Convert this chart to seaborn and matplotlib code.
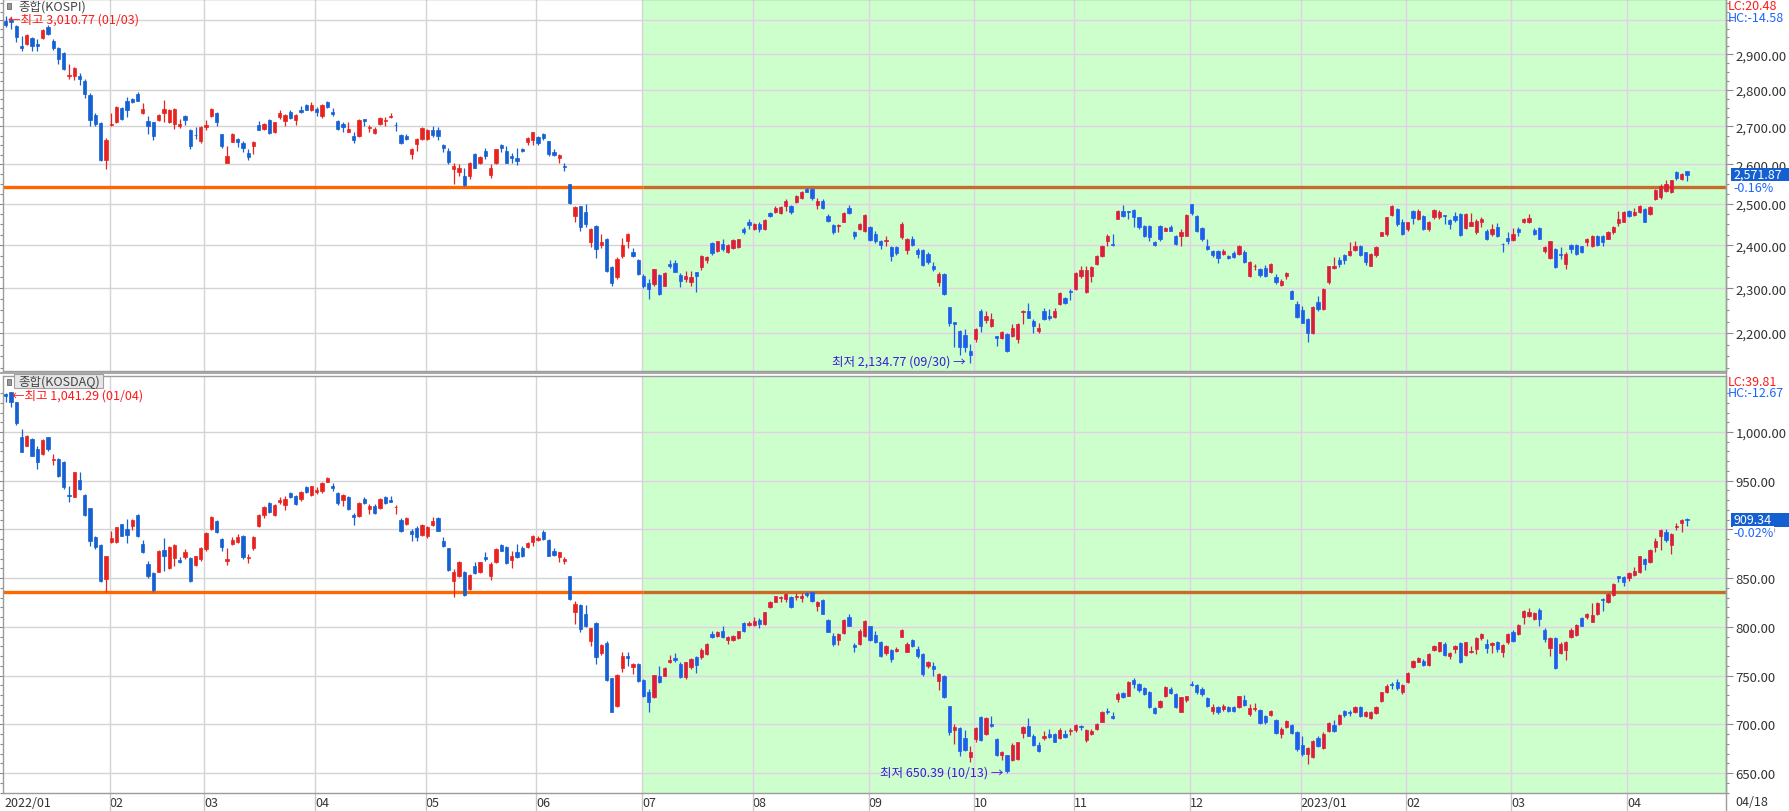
import numpy as np
import matplotlib
matplotlib.use("Agg")
import matplotlib.pyplot as plt
import seaborn as sns
from matplotlib.ticker import FixedLocator, FuncFormatter, NullFormatter
from matplotlib.patches import Rectangle
from matplotlib.lines import Line2D

sns.set_theme(style="white")
plt.rcParams['font.family'] = ['Noto Sans CJK KR', 'DejaVu Sans']
plt.rcParams['axes.unicode_minus'] = False

# ---------------- data (daily candles, 2022/01/03 .. 2023/04/18) ----------------
kospi_open = [
 2998, 3001, 2983, 2925, 2930, 2947, 2930, 2947, 2980, 2937,
 2917, 2903, 2839, 2837, 2839, 2825, 2786, 2731, 2709, 2612,
 2704, 2711, 2749, 2768, 2774, 2787, 2736, 2715, 2711, 2717,
 2735, 2711, 2707, 2702, 2729, 2690, 2678, 2662, 2698, 2729,
 2735, 2679, 2605, 2659, 2666, 2656, 2629, 2649, 2704, 2692,
 2717, 2685, 2724, 2714, 2740, 2718, 2745, 2758, 2743, 2747,
 2729, 2767, 2740, 2715, 2706, 2685, 2675, 2675, 2719, 2695,
 2682, 2706, 2715, 2724, 2705, 2677, 2675, 2627, 2653, 2666,
 2666, 2690, 2690, 2651, 2636, 2588, 2580, 2571, 2570, 2626,
 2603, 2636, 2574, 2604, 2650, 2636, 2623, 2616, 2640, 2659,
 2664, 2673, 2679, 2660, 2631, 2616, 2596, 2549, 2471, 2494,
 2480, 2407, 2447, 2401, 2416, 2348, 2326, 2375, 2409, 2385,
 2366, 2329, 2311, 2310, 2330, 2306, 2355, 2359, 2330, 2321,
 2313, 2336, 2348, 2366, 2405, 2387, 2403, 2384, 2394, 2395,
 2439, 2455, 2439, 2452, 2439, 2477, 2480, 2478, 2494, 2494,
 2504, 2515, 2538, 2538, 2498, 2508, 2471, 2448, 2446, 2457,
 2490, 2431, 2439, 2433, 2443, 2427, 2411, 2409, 2395, 2395,
 2419, 2389, 2416, 2388, 2388, 2379, 2352, 2313, 2333, 2257,
 2225, 2205, 2196, 2161, 2187, 2249, 2228, 2216, 2193, 2189,
 2198, 2194, 2187, 2246, 2249, 2227, 2205, 2249, 2238, 2236,
 2264, 2278, 2294, 2299, 2327, 2292, 2329, 2355, 2375, 2409,
 2403, 2463, 2483, 2482, 2486, 2467, 2447, 2447, 2407, 2447,
 2435, 2443, 2423, 2421, 2423, 2500, 2471, 2441, 2397, 2387,
 2387, 2379, 2375, 2381, 2379, 2383, 2329, 2351, 2344, 2346,
 2336, 2325, 2308, 2327, 2294, 2265, 2251, 2231, 2199, 2268,
 2252, 2313, 2346, 2365, 2377, 2377, 2389, 2399, 2383, 2352,
 2377, 2423, 2427, 2474, 2487, 2455, 2439, 2484, 2463, 2471,
 2439, 2467, 2467, 2472, 2461, 2471, 2476, 2441, 2447, 2431,
 2455, 2435, 2427, 2443, 2404, 2418, 2413, 2439, 2455, 2455,
 2437, 2441, 2387, 2369, 2391, 2379, 2356, 2401, 2401, 2397,
 2407, 2397, 2423, 2423, 2416, 2431, 2453, 2457, 2484, 2473,
 2480, 2488, 2475, 2513, 2517, 2533, 2531, 2580, 2563, 2582]
kospi_high = [
 3011, 3008, 2985, 2954, 2960, 2950, 2944, 2974, 2985, 2944,
 2920, 2906, 2872, 2865, 2846, 2830, 2790, 2735, 2711, 2670,
 2736, 2755, 2752, 2780, 2776, 2793, 2763, 2727, 2713, 2732,
 2772, 2748, 2749, 2720, 2731, 2692, 2699, 2701, 2717, 2750,
 2738, 2680, 2649, 2682, 2668, 2662, 2640, 2660, 2715, 2710,
 2720, 2713, 2743, 2733, 2743, 2733, 2754, 2760, 2767, 2752,
 2760, 2770, 2749, 2717, 2712, 2711, 2684, 2720, 2720, 2705,
 2699, 2724, 2725, 2736, 2711, 2679, 2680, 2642, 2668, 2697,
 2692, 2702, 2697, 2653, 2643, 2605, 2600, 2590, 2606, 2630,
 2622, 2643, 2600, 2641, 2653, 2649, 2630, 2643, 2644, 2673,
 2686, 2675, 2682, 2662, 2640, 2627, 2604, 2551, 2494, 2496,
 2500, 2442, 2449, 2427, 2418, 2350, 2373, 2418, 2429, 2393,
 2368, 2332, 2321, 2345, 2332, 2337, 2366, 2364, 2334, 2340,
 2340, 2338, 2377, 2374, 2408, 2411, 2415, 2402, 2414, 2416,
 2443, 2463, 2453, 2455, 2463, 2480, 2496, 2494, 2512, 2497,
 2523, 2533, 2539, 2540, 2515, 2512, 2475, 2452, 2452, 2480,
 2497, 2433, 2453, 2475, 2446, 2433, 2413, 2421, 2397, 2397,
 2455, 2418, 2421, 2393, 2390, 2385, 2360, 2336, 2335, 2258,
 2225, 2207, 2209, 2177, 2212, 2253, 2249, 2245, 2193, 2205,
 2200, 2219, 2222, 2251, 2266, 2231, 2223, 2256, 2253, 2256,
 2292, 2279, 2298, 2337, 2350, 2350, 2352, 2377, 2401, 2428,
 2426, 2486, 2498, 2483, 2488, 2469, 2449, 2449, 2409, 2449,
 2443, 2449, 2425, 2439, 2475, 2501, 2473, 2443, 2415, 2389,
 2389, 2391, 2377, 2387, 2401, 2389, 2362, 2356, 2346, 2354,
 2358, 2333, 2320, 2336, 2296, 2272, 2260, 2233, 2260, 2283,
 2301, 2352, 2371, 2371, 2379, 2407, 2409, 2401, 2385, 2381,
 2399, 2432, 2467, 2498, 2490, 2463, 2457, 2486, 2488, 2473,
 2459, 2488, 2486, 2473, 2463, 2480, 2478, 2478, 2478, 2463,
 2467, 2439, 2451, 2453, 2405, 2431, 2441, 2443, 2465, 2475,
 2441, 2443, 2399, 2411, 2393, 2395, 2383, 2404, 2404, 2399,
 2418, 2424, 2424, 2424, 2435, 2446, 2482, 2484, 2486, 2489,
 2497, 2490, 2496, 2538, 2550, 2559, 2560, 2582, 2578, 2584]
kospi_low = [
 2979, 2974, 2935, 2910, 2928, 2908, 2908, 2945, 2955, 2913,
 2872, 2855, 2830, 2828, 2813, 2777, 2702, 2700, 2608, 2588,
 2702, 2708, 2718, 2724, 2764, 2768, 2733, 2680, 2664, 2714,
 2711, 2708, 2693, 2695, 2704, 2640, 2666, 2656, 2690, 2724,
 2700, 2643, 2603, 2658, 2646, 2631, 2612, 2627, 2690, 2690,
 2680, 2683, 2720, 2702, 2720, 2705, 2735, 2744, 2741, 2729,
 2722, 2749, 2729, 2690, 2684, 2684, 2656, 2671, 2702, 2684,
 2680, 2704, 2701, 2722, 2688, 2652, 2663, 2614, 2636, 2664,
 2663, 2673, 2664, 2633, 2602, 2550, 2571, 2544, 2563, 2590,
 2601, 2614, 2566, 2602, 2633, 2603, 2605, 2599, 2631, 2651,
 2651, 2651, 2664, 2621, 2621, 2604, 2582, 2500, 2457, 2435,
 2444, 2395, 2370, 2393, 2338, 2306, 2321, 2369, 2393, 2371,
 2330, 2300, 2275, 2306, 2285, 2304, 2347, 2336, 2302, 2313,
 2306, 2292, 2342, 2359, 2378, 2385, 2387, 2382, 2392, 2394,
 2427, 2439, 2437, 2431, 2437, 2467, 2478, 2476, 2483, 2476,
 2502, 2513, 2529, 2511, 2487, 2488, 2455, 2428, 2431, 2455,
 2476, 2415, 2437, 2431, 2410, 2405, 2391, 2398, 2363, 2377,
 2415, 2379, 2399, 2369, 2352, 2356, 2340, 2306, 2284, 2215,
 2169, 2153, 2159, 2135, 2180, 2203, 2223, 2214, 2172, 2186,
 2160, 2191, 2178, 2219, 2233, 2200, 2201, 2229, 2229, 2233,
 2262, 2264, 2273, 2296, 2324, 2290, 2313, 2353, 2373, 2399,
 2399, 2462, 2468, 2462, 2443, 2440, 2419, 2411, 2399, 2411,
 2433, 2433, 2401, 2399, 2421, 2474, 2431, 2411, 2389, 2373,
 2357, 2377, 2367, 2369, 2377, 2358, 2325, 2342, 2325, 2325,
 2334, 2310, 2305, 2321, 2275, 2234, 2222, 2180, 2197, 2249,
 2250, 2310, 2344, 2349, 2356, 2374, 2387, 2374, 2354, 2350,
 2372, 2421, 2423, 2471, 2447, 2425, 2435, 2452, 2461, 2437,
 2435, 2463, 2463, 2451, 2439, 2457, 2423, 2439, 2445, 2427,
 2443, 2413, 2423, 2419, 2383, 2404, 2411, 2423, 2453, 2453,
 2425, 2415, 2381, 2367, 2347, 2367, 2344, 2381, 2377, 2381,
 2399, 2395, 2399, 2397, 2415, 2427, 2447, 2455, 2467, 2471,
 2478, 2455, 2473, 2511, 2513, 2531, 2528, 2559, 2559, 2558]
kospi_close = [
 2986, 2993, 2949, 2917, 2957, 2923, 2925, 2971, 2959, 2918,
 2887, 2858, 2841, 2862, 2830, 2788, 2718, 2707, 2612, 2664,
 2706, 2752, 2720, 2744, 2766, 2770, 2747, 2702, 2675, 2730,
 2746, 2745, 2746, 2706, 2718, 2647, 2676, 2698, 2704, 2747,
 2713, 2649, 2623, 2679, 2659, 2644, 2618, 2658, 2691, 2707,
 2682, 2711, 2737, 2731, 2723, 2731, 2738, 2745, 2758, 2738,
 2758, 2753, 2733, 2693, 2697, 2693, 2663, 2717, 2715, 2697,
 2693, 2722, 2718, 2729, 2703, 2656, 2666, 2640, 2666, 2695,
 2690, 2677, 2674, 2644, 2607, 2597, 2592, 2548, 2604, 2592,
 2620, 2623, 2592, 2639, 2644, 2605, 2616, 2610, 2635, 2670,
 2684, 2656, 2668, 2626, 2625, 2625, 2594, 2502, 2492, 2444,
 2451, 2440, 2391, 2407, 2340, 2311, 2367, 2400, 2427, 2375,
 2332, 2305, 2298, 2343, 2287, 2335, 2350, 2338, 2317, 2329,
 2326, 2329, 2375, 2372, 2382, 2409, 2391, 2400, 2412, 2414,
 2431, 2448, 2451, 2439, 2461, 2471, 2491, 2492, 2508, 2480,
 2521, 2529, 2531, 2514, 2508, 2490, 2459, 2431, 2448, 2477,
 2478, 2421, 2451, 2473, 2412, 2409, 2400, 2413, 2375, 2381,
 2451, 2415, 2401, 2379, 2354, 2360, 2344, 2333, 2287, 2222,
 2220, 2169, 2169, 2152, 2209, 2215, 2237, 2231, 2190, 2203,
 2162, 2212, 2219, 2249, 2234, 2216, 2212, 2231, 2233, 2249,
 2290, 2266, 2292, 2335, 2341, 2342, 2348, 2374, 2399, 2422,
 2400, 2484, 2471, 2480, 2467, 2443, 2421, 2419, 2401, 2416,
 2441, 2435, 2404, 2432, 2473, 2478, 2433, 2416, 2391, 2377,
 2369, 2387, 2369, 2371, 2399, 2360, 2360, 2352, 2331, 2329,
 2356, 2313, 2317, 2334, 2276, 2236, 2223, 2201, 2257, 2253,
 2299, 2350, 2352, 2356, 2364, 2387, 2399, 2377, 2360, 2379,
 2395, 2431, 2467, 2496, 2451, 2428, 2455, 2465, 2482, 2439,
 2455, 2486, 2480, 2470, 2451, 2461, 2425, 2476, 2455, 2459,
 2463, 2416, 2439, 2421, 2402, 2410, 2427, 2431, 2463, 2465,
 2427, 2416, 2395, 2409, 2349, 2378, 2379, 2391, 2379, 2385,
 2415, 2423, 2401, 2407, 2431, 2443, 2463, 2480, 2471, 2480,
 2496, 2457, 2492, 2534, 2546, 2550, 2559, 2565, 2576, 2572]

kosdaq_open = [
 1039, 1041, 1030.5, 994.5, 986, 992.9, 982.6, 977.5, 994.5, 971.6,
 972.3, 968.9, 935.4, 933.7, 950.8, 935.4, 921.7, 891.9, 884.1, 849.2,
 886.8, 886.8, 905.6, 900.5, 903.9, 914.8, 885.1, 864.6, 855.3, 856.7,
 878.9, 860.1, 870.4, 868.7, 872.1, 870.4, 863.5, 869.7, 880, 900.5,
 909, 890.2, 868, 885.1, 887.5, 893.6, 870.4, 880.6, 903.2, 915.2,
 926.8, 914.8, 927.8, 925.1, 937.1, 934.7, 931.3, 943.2, 935.4, 938.8,
 939.5, 949.1, 945, 937.4, 930.6, 933, 915.2, 914.2, 931.3, 921,
 924.4, 921.7, 933, 930.2, 922.7, 910, 905.6, 898, 901.5, 894.3,
 893.6, 904.6, 911.8, 888.5, 880.6, 847.4, 852, 856, 838.9, 862.9,
 856.7, 872.1, 852.6, 866.3, 884.1, 881.7, 868.7, 876.5, 881, 881.7,
 887.5, 889.2, 897.7, 889.2, 878.2, 871.4, 868, 851.9, 814.9, 822.5,
 813.2, 785.9, 804, 773.2, 783.5, 747.2, 718.5, 757.5, 770.5, 758.5,
 761.9, 745, 733.5, 727.7, 750, 750, 763.6, 767.7, 761.9, 748.2,
 758.5, 768.8, 768.8, 772.1, 792.7, 790.3, 796.1, 786.9, 786.9, 788.3,
 804, 801.9, 801.9, 807.4, 803, 820.1, 825.9, 829.3, 828.6, 830.3,
 830.3, 829.3, 834.5, 835.5, 821.8, 827.9, 807.4, 790.3, 786.9, 793.7,
 809.8, 781.4, 782.4, 791, 800.6, 792, 784.8, 773.2, 776.6, 775.6,
 789.9, 774.6, 786.9, 777.3, 772.1, 760.2, 760.2, 744.8, 750, 718.5,
 693.8, 696, 685.8, 666.1, 685.1, 707.2, 690.1, 700.3, 685.1, 668.5,
 668, 663.7, 664.4, 691.1, 698, 688.4, 678.8, 685.6, 690.1, 690.1,
 685.6, 690.1, 693.5, 694.5, 698, 684.3, 690.1, 695.2, 702.8, 714,
 708.9, 726, 732.2, 729.4, 745.8, 741.4, 736.9, 733.5, 716.4, 717.5,
 728.7, 736.3, 731.1, 713, 725.3, 741.4, 740.4, 736.3, 726.7, 714,
 717.5, 715.7, 717.5, 717.5, 717.5, 725.3, 710.6, 715.7, 715, 708.2,
 709.6, 704.8, 690.1, 696.9, 699.3, 691.8, 678.8, 669.6, 666.1, 685.6,
 675.4, 693.5, 699.3, 700.3, 714, 712.3, 712.3, 717.5, 708.9, 706.2,
 711.6, 724.3, 733.5, 741.4, 743.1, 733.5, 743.1, 758.5, 764.3, 765.3,
 760.9, 776.6, 775.6, 782.4, 769.8, 777.3, 783.5, 771.1, 774.6, 777.3,
 788.3, 782.4, 781.4, 784.8, 774.6, 784.2, 794.4, 792.7, 809.8, 810.8,
 808.1, 817.7, 797.2, 778, 788.3, 773.2, 776.6, 789.3, 791.7, 808.8,
 809.8, 805.4, 813.2, 828.6, 825.2, 832.7, 851.9, 850.9, 849.9, 853.3,
 856, 869.7, 866.3, 881.7, 893, 897.7, 884.1, 902.2, 906.6, 910.7]
kosdaq_high = [
 1040, 1041.3, 1031, 1003, 997, 994, 986, 993, 995.2, 977.5,
 973, 970, 944.9, 959, 959.3, 936, 922, 893, 885, 873,
 898.8, 903, 906, 910.7, 910.7, 915.5, 889.5, 868, 856, 879,
 890.9, 883, 885, 871.4, 880, 871.4, 873, 881.7, 897.7, 913.5,
 910, 891, 880.6, 892, 895.3, 894, 874.8, 893.6, 915.8, 924.3,
 927.8, 926.1, 933, 934, 938.1, 935.4, 939.5, 944.9, 944.9, 943.2,
 948.4, 953.5, 947.7, 938.1, 936.4, 934.7, 916.9, 927.8, 933, 926.1,
 926.1, 932, 934.7, 934.7, 925.1, 911.8, 912.5, 900.5, 903.9, 905.6,
 903.9, 913.1, 912.5, 891.9, 881, 859.4, 867.4, 857.7, 854, 866.3,
 867, 877.2, 866.3, 880.6, 885.1, 882.7, 878.2, 885.1, 882.7, 887.5,
 894.3, 893.6, 899.4, 890.2, 881, 877.2, 871.4, 852, 826.9, 823,
 822.5, 799.2, 805.4, 782.4, 785.9, 748, 751.3, 773.9, 774.6, 762.9,
 763, 747, 736.3, 751, 760.2, 758.5, 771.1, 773.2, 763.6, 764.3,
 767.7, 770.5, 778, 783.5, 796.2, 796.1, 800.6, 791, 791.7, 796.1,
 805.4, 806.4, 809.8, 808.8, 815.4, 826.9, 832, 831.3, 834.8, 832,
 834.8, 834.8, 835.5, 835.8, 826.9, 828.6, 807.8, 793.7, 793.7, 808.1,
 813.2, 783.5, 797.8, 807.4, 801.2, 796.1, 785.9, 781.4, 777.3, 779,
 797.8, 784.2, 787.6, 780.1, 773, 765.3, 763.6, 752.7, 751, 719,
 700.3, 697, 694.5, 678.1, 697, 708.2, 707, 708.2, 686, 673,
 669, 680.9, 682.2, 698, 706.2, 690.1, 682.2, 693.5, 695.2, 691.1,
 695.9, 694.5, 695.9, 700.3, 699.3, 695.2, 695.2, 701.4, 714, 716.4,
 713, 732.8, 733.5, 744.8, 747.2, 742.5, 738, 734, 717.5, 725.3,
 739, 738, 732.2, 728.4, 729.4, 744.8, 741.4, 738, 727.7, 720.9,
 719.2, 720.9, 718.5, 719.2, 729.4, 730.1, 720.9, 721.9, 716, 709.6,
 715, 705.5, 696.9, 704.8, 700.3, 693.5, 688.4, 676.4, 684.3, 688.4,
 691.8, 702.1, 704.8, 710.6, 715, 715, 718.5, 719.2, 714, 714,
 718.5, 733.5, 741.4, 743.1, 746.5, 741.4, 753.4, 766.4, 768.8, 767,
 773.2, 781.4, 784.8, 784.2, 774.6, 781.4, 784.8, 784.8, 780.7, 789.3,
 793.7, 787.6, 784.8, 785.9, 782.4, 793.7, 797.2, 803, 817.7, 819.1,
 815.6, 819.1, 798.5, 789.3, 789.3, 784.8, 785.9, 798.5, 803, 809.8,
 814.2, 824.5, 825.2, 829.3, 834.8, 845, 852.6, 852, 856.7, 861.1,
 873.1, 870.4, 880, 890.9, 900.5, 900.5, 896.4, 906.6, 910.7, 911.4]
kosdaq_low = [
 1030.5, 1025.4, 1007.2, 979, 985.3, 975, 962, 976, 980.9, 966.2,
 953.5, 941.5, 928.5, 933, 940.9, 914.2, 882.7, 880, 845.7, 836.2,
 886.1, 886, 893, 886.1, 899.8, 892, 875.8, 849.9, 836.2, 856,
 857.7, 859.4, 862.9, 865.3, 869.7, 846.4, 862.9, 868, 878.2, 899,
 896.4, 878.2, 863.5, 884.1, 886.1, 869.7, 865.6, 879.3, 902.5, 911.4,
 916.9, 913.5, 926.5, 920, 931.9, 925.4, 929.6, 937.4, 934.7, 936.4,
 937.4, 948.4, 939.8, 925.4, 924.4, 920.3, 904.6, 912.5, 926.1, 915.9,
 915.9, 921, 926.1, 927.8, 915.9, 897, 904.6, 888.5, 888.5, 893,
 891.2, 903.9, 898, 881.7, 857.7, 830.4, 850.9, 831.3, 838, 854.3,
 855.3, 867.3, 848.5, 865.6, 877.5, 864.6, 860.1, 870.4, 871.4, 880.6,
 883.4, 888.5, 889.2, 872.4, 872.4, 866.9, 864.6, 828, 803, 794.4,
 799.6, 780.1, 761.9, 771.1, 744.8, 712.6, 718, 754.1, 759.5, 751.7,
 743, 728, 712.3, 726.7, 742.5, 749.2, 762.9, 763.6, 747.2, 746.5,
 756.8, 752.7, 767, 771.1, 788.3, 790, 788.3, 782.5, 785.9, 787.6,
 794.4, 801.2, 800.6, 798.5, 802, 819.1, 825.2, 825.2, 825.2, 819.1,
 828, 825.9, 830.3, 825.2, 816.7, 812.9, 794.4, 780.7, 781.4, 792.7,
 800.6, 774.6, 781.4, 789.3, 785.9, 783.5, 768.8, 771.1, 764.3, 773.9,
 789.3, 773.9, 779, 767.7, 750, 758.2, 749.2, 735.6, 726.7, 689.1,
 679.8, 667.2, 673, 661, 682.2, 683.2, 689.1, 697, 667.2, 663.7,
 650.4, 662.7, 663.7, 685.6, 687.7, 678.1, 671.9, 684.3, 685.6, 681.5,
 684.9, 685.6, 689.1, 692.5, 694.5, 682.2, 689.1, 694.5, 702.1, 710.6,
 705.5, 723.3, 726.7, 728.7, 737, 732.8, 730.1, 716.4, 710.6, 716.4,
 727.7, 731.1, 716.4, 712.3, 722.6, 739, 731.1, 729.4, 717.5, 710.6,
 710.6, 714, 713, 712.3, 716.4, 719.2, 708.9, 714, 700.3, 700.3,
 708.9, 690.1, 685.6, 695.9, 690.1, 672.9, 667.9, 659.3, 665.1, 676.4,
 674.7, 692.5, 691.8, 699.3, 707.2, 708.2, 711.6, 707.2, 707.2, 705.5,
 710.6, 723.3, 732.2, 736.3, 735.6, 731.1, 742.5, 757.5, 763.6, 760.2,
 760.2, 775.6, 774.6, 769.8, 767.1, 773.2, 762.9, 770.5, 773.2, 772.1,
 786.9, 773.2, 773.2, 773.9, 768.8, 782.4, 784.8, 791.7, 803, 809.8,
 807.4, 800.6, 784.8, 770.5, 756.8, 772.1, 766.4, 788.3, 790.3, 800.6,
 808.1, 804.7, 812.2, 816.7, 824.2, 831.4, 845.7, 842.3, 847.4, 851.9,
 855.3, 858.7, 865.6, 876.5, 879.3, 887.5, 874.8, 899.8, 897.7, 904]
kosdaq_close = [
 1037, 1031, 1009.3, 979.8, 996.3, 975.7, 968.9, 991.8, 982.6, 972.3,
 955.2, 943.2, 934, 958.6, 941.5, 914.8, 888.5, 881.7, 847.4, 872.4,
 890.9, 902.2, 893.6, 894.6, 910, 893.6, 876.5, 852.6, 838.2, 878.2,
 873.1, 882.3, 884.1, 866.3, 877.2, 847.4, 872.4, 880.6, 896.4, 912.8,
 897.7, 881.7, 869.7, 889.5, 892.6, 871.4, 872.1, 892.6, 914.8, 923.4,
 917.6, 925.1, 930.2, 931.3, 933, 926.1, 938.1, 938.8, 944.2, 940.8,
 947.3, 952.5, 942.2, 926.8, 935.4, 921, 913.1, 926.8, 927.2, 924.4,
 916.9, 931.3, 927.2, 928.5, 923.4, 898, 911.8, 895.3, 891.9, 904.6,
 902.2, 909, 898.8, 882.7, 858.7, 856.7, 867, 832.7, 853.3, 855.3,
 866.3, 869.7, 864.6, 880, 878.2, 865.3, 873.1, 871.4, 872.4, 886.1,
 893, 891.2, 890.2, 873.1, 873.8, 876.5, 869.7, 828.6, 823.5, 797.8,
 800.6, 798.5, 768.8, 781.4, 745.8, 713, 750.6, 770.5, 767.7, 761.9,
 744.8, 729, 722.6, 750.6, 743.1, 757.8, 766.4, 766.4, 748.2, 763.6,
 767.1, 760.9, 776.6, 782.4, 789.3, 795.1, 789.3, 790, 790.3, 795.5,
 796.1, 804, 806.4, 803, 815, 825.9, 831.4, 830.3, 833.7, 820.1,
 832, 832, 832.7, 826.9, 825.9, 813.2, 795.1, 782.4, 792.7, 807.4,
 801.2, 779, 796.1, 806.4, 786.9, 784.8, 769.8, 780.1, 767.1, 777.3,
 797.2, 782.4, 780.7, 769.8, 751.7, 763.6, 756.8, 751.7, 727.7, 691.8,
 697.4, 673.1, 674.1, 672, 696, 684.3, 706.2, 698, 668.5, 671.3,
 652, 678.8, 681.5, 696.9, 688.4, 678.8, 672.9, 688.4, 686.7, 682.2,
 694.5, 686.7, 694.5, 699.3, 697, 694.5, 693.5, 700.3, 713, 713,
 706.2, 731.1, 727.7, 743.8, 741.4, 735.6, 731.1, 717.5, 711.6, 724.3,
 738, 732.2, 717.5, 727.7, 728.7, 740.4, 732.8, 731.1, 718.5, 717.5,
 712.3, 718.5, 714, 714, 728.7, 719.9, 716.4, 716.4, 701.4, 702.8,
 714, 691.1, 695.2, 703.8, 691.1, 674.7, 669.6, 675.4, 683.2, 678.1,
 690.1, 701.4, 693.5, 709.6, 709.6, 711.6, 717.5, 708.9, 713, 713,
 717.5, 732.8, 739, 740.4, 736.9, 740.4, 752.7, 765.3, 767.7, 760.9,
 772.1, 780.1, 784.2, 771.1, 773.2, 780.1, 763.6, 784.2, 775.6, 788.3,
 792.7, 777.9, 783.5, 777.3, 781.4, 792.7, 785.9, 801.9, 816.7, 814.9,
 814.2, 808.1, 787.6, 788.3, 757.5, 782.4, 784.8, 797.2, 801.9, 801.2,
 813.2, 812.2, 824.5, 827.6, 833.7, 844, 849.9, 846.4, 855.3, 857.7,
 872.4, 864.6, 879.3, 888.5, 899.8, 889.5, 895.3, 903.9, 910, 909.3]

# first trading day (candle index) of each month and its label
month_start = [20, 38, 59, 80, 101, 121, 142, 164, 184, 203, 225, 246, 266, 286, 308]
month_labels = ["02", "03", "04", "05", "06", "07", "08", "09", "10", "11", "12",
                "2023/01", "02", "03", "04"]
first_label = "2022/01"
last_date = "04/18"

kospi_level = 2542      # horizontal support line
kosdaq_level = 835.4
kospi_ticks = [2200, 2300, 2400, 2500, 2600, 2700, 2800, 2900, 3000]
kospi_hidden_label = 3000   # covered by the HC read-out in the reference
kosdaq_ticks = [650, 700, 750, 800, 850, 900, 950, 1000]

# ---------------- figure ----------------
W, H = 1789, 812
fig = plt.figure(figsize=(W / 100, H / 100), dpi=100)
fig.patch.set_facecolor('white')


def rect(x0, y0, x1, y1):
    return [x0 / W, 1 - y1 / H, (x1 - x0) / W, (y1 - y0) / H]


ax1 = fig.add_axes(rect(3.3, 0, 1726, 372))
ax2 = fig.add_axes(rect(3.3, 376.5, 1726, 794))

XL = (-0.47, 326.4)
GREEN_START = 120.85
grid_pos = [m - 0.3 for m in month_start]

UP_W, DN_W = '#E8221E', '#1560D2'
UP_G, DN_G = '#DC1E3C', '#1E5EEC'
GRID_W, GRID_G = '#D4D4D4', '#E6CFE6'


def draw_panel(ax, o, h, l, c, ylim, log, major, minor, level, hidden=None):
    o, h, l, c = map(np.asarray, (o, h, l, c))
    x = np.arange(len(o))
    if log:
        ax.set_yscale('log')
    ax.set_xlim(*XL)
    ax.set_ylim(*ylim)
    ax.set_facecolor('white')
    ax.grid(False)
    ax.axvspan(GREEN_START, XL[1], color='#CCFFCC', zorder=0, lw=0)
    ax.hlines(major, XL[0], GREEN_START, colors=GRID_W, lw=1.0, zorder=1)
    ax.hlines(major, GREEN_START, XL[1], colors=GRID_G, lw=1.0, zorder=1)
    for p in grid_pos:
        ax.axvline(p, color=GRID_W if p < GREEN_START else GRID_G, lw=1.0, zorder=1)
    ax.plot([XL[0], GREEN_START], [level, level], color='#FF6600', lw=2.4,
            zorder=2, solid_capstyle='butt')
    ax.plot([GREEN_START, XL[1]], [level, level], color='#C86A2E', lw=2.4,
            zorder=2, solid_capstyle='butt')
    up = c >= o
    green = x >= GREEN_START
    col = np.where(up, np.where(green, UP_G, UP_W), np.where(green, DN_G, DN_W))
    ax.vlines(x, l, h, colors=col, lw=0.9, zorder=3)
    ax.bar(x, np.abs(c - o), bottom=np.minimum(o, c), width=0.62, color=col,
           edgecolor=col, linewidth=0.5, zorder=4)

    ax.yaxis.set_major_locator(FixedLocator(major))
    ax.yaxis.set_minor_locator(FixedLocator(minor))
    ax.yaxis.set_major_formatter(
        FuncFormatter(lambda v, p: "" if hidden is not None and abs(v - hidden) < 1e-6
                      else f"{v:,.2f}"))
    ax.yaxis.set_minor_formatter(NullFormatter())
    ax.tick_params(axis='y', which='both', left=True, right=True, labelleft=False,
                   labelright=True, direction='out', colors='#8A8A8A',
                   labelcolor='#333333', labelsize=9.5)
    ax.tick_params(axis='y', which='major', length=5, width=0.8, pad=2)
    ax.tick_params(axis='y', which='minor', length=2.5, width=0.8)
    for s in ax.spines.values():
        s.set_color('#9C9C9C')
        s.set_linewidth(1.0)


minor1 = [v for v in range(2125, 3075, 25) if v % 100 != 0]
minor2 = [v for v in range(630, 1060, 10) if v % 50 != 0]
draw_panel(ax1, kospi_open, kospi_high, kospi_low, kospi_close,
           (2118.7, 3063.3), True, kospi_ticks, minor1, kospi_level, kospi_hidden_label)
draw_panel(ax2, kosdaq_open, kosdaq_high, kosdaq_low, kosdaq_close,
           (629.5, 1058.0), False, kosdaq_ticks, minor2, kosdaq_level)

ax1.set_xticks([])
ax2.set_xticks([XL[0] + 0.25] + grid_pos)
ax2.set_xticklabels([first_label] + month_labels, ha='left', fontsize=9, color='#333333')
ax2.tick_params(axis='x', length=0, pad=2.5, bottom=True)
for p in grid_pos:
    ax2.axvline(p, ymin=-18 / 417.5, ymax=0, clip_on=False, color='#C8C8C8', lw=1.0)

# structural lines outside the axes
fig.add_artist(Line2D([0, 1726 / W], [1 - 373.5 / H] * 2, color='#A8A8A8', lw=1.5))
fig.add_artist(Line2D([1726 / W] * 2, [0, 1], color='#9C9C9C', lw=1.0))


def ftext(x, y, s, **kw):
    kw.setdefault('fontsize', 9)
    kw.setdefault('va', 'center')
    return fig.text(x / W, 1 - y / H, s, **kw)


# panel headers
fig.add_artist(Rectangle((7 / W, 1 - 10 / H), 4 / W, 6 / H, transform=fig.transFigure,
                         facecolor='#9A9A9A', edgecolor='#666666', lw=0.6))
ftext(18, 7, "종합(KOSPI)", color='#444444')
fig.add_artist(Rectangle((14 / W, 1 - 389 / H), 89 / W, 14 / H, transform=fig.transFigure,
                         facecolor='#E6E6E6', edgecolor='#A0A0A0', lw=0.8))
fig.add_artist(Rectangle((7 / W, 1 - 386 / H), 4 / W, 6 / H, transform=fig.transFigure,
                         facecolor='#9A9A9A', edgecolor='#666666', lw=0.6))
ftext(18, 382, "종합(KOSDAQ)", color='#444444')

# extreme annotations
ftext(8, 20, "←최고 3,010.77 (01/03)", color='#FF1A1A')
ftext(12, 396, "←최고 1,041.29 (01/04)", color='#FF1A1A')
ax1.text(182.2, 2139, "최저 2,134.77 (09/30) →", ha='right', va='center',
         fontsize=9, color='#3A1ECF', zorder=6)
ax2.text(189.2, 651.5, "최저 650.39 (10/13) →", ha='right', va='center',
         fontsize=9, color='#3A1ECF', zorder=6)

# right-side info
ftext(1728, 6, "LC:20.48", color='#FF1A1A')
ftext(1728, 18.5, "HC:-14.58", color='#1E64FF')
ftext(1728, 382, "LC:39.81", color='#FF1A1A')
ftext(1728, 394, "HC:-12.67", color='#1E64FF')

fig.add_artist(Rectangle((1731 / W, 1 - 181.5 / H), 58 / W, 13 / H, transform=fig.transFigure,
                         facecolor='#1560D0', edgecolor='none', zorder=5))
ftext(1733, 175, "2,571.87", color='white', zorder=6)
ftext(1733, 188.5, "-0.16%", color='#1E64FF', zorder=6)
fig.add_artist(Rectangle((1731 / W, 1 - 527.5 / H), 58 / W, 13.5 / H, transform=fig.transFigure,
                         facecolor='#1560D0', edgecolor='none', zorder=5))
ftext(1733, 520.5, "909.34", color='white', zorder=6)
ftext(1733, 533.5, "-0.02%", color='#1E64FF', zorder=6,
      bbox=dict(facecolor='white', edgecolor='none', pad=0.2))

ftext(1735, 802.5, last_date, color='#333333')

fig.savefig("out.png", dpi=100, facecolor='white')
